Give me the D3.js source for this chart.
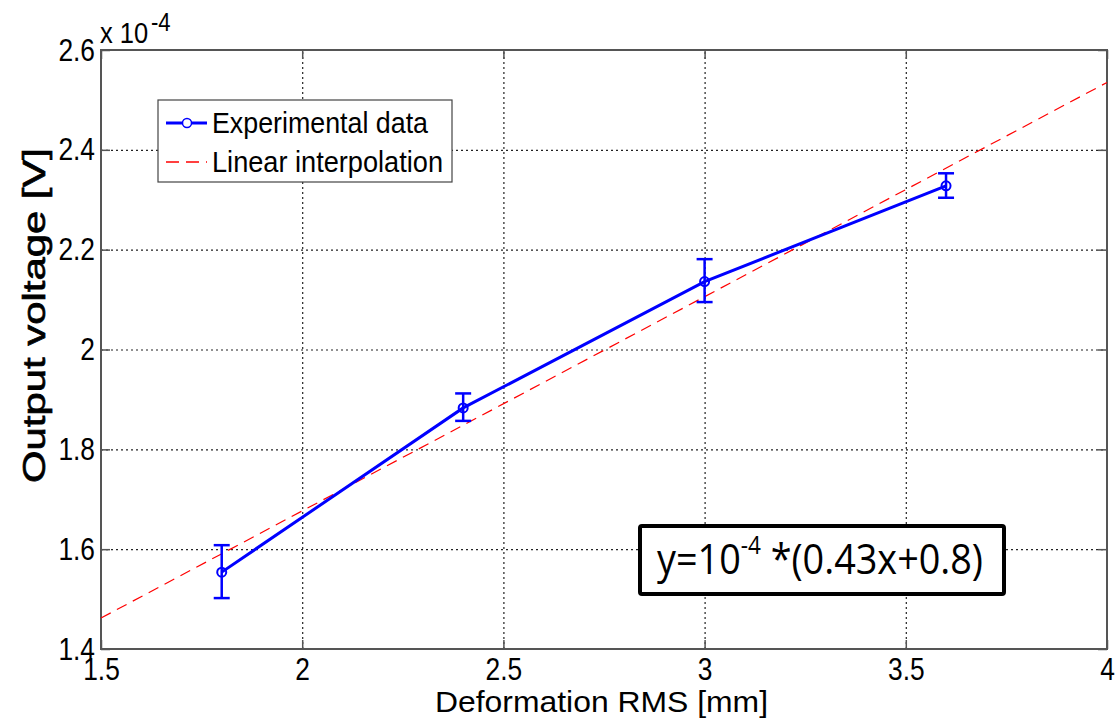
<!DOCTYPE html>
<html>
<head>
<meta charset="utf-8">
<script src="https://cdn.jsdelivr.net/npm/d3@7"></script>
<style>
  body { margin: 0; background: #fff; }
  text { font-family: "Liberation Sans", Arial, sans-serif; fill: #000; }
</style>
</head>
<body>
<div id="chart"></div>
<script>
// measured data (units of 1e-4 V)
var xValues = [1.8, 2.4, 3.0, 3.6];
var yValues = [1.554, 1.883, 2.136, 2.328];
var yLow = [1.502, 1.857, 2.095, 2.304];
var yHigh = [1.608, 1.912, 2.181, 2.353];

// linear fit end points
var fitX = [1.5, 4.0];
var fitY = [1.462, 2.535];

var xTicks = [1.5, 2, 2.5, 3, 3.5, 4];
var yTicks = [1.4, 1.6, 1.8, 2, 2.2, 2.4, 2.6];

var width = 1115, height = 724;
var margin = { left: 101, right: 8, top: 50, bottom: 75 };
var plotW = width - margin.left - margin.right;
var plotH = height - margin.top - margin.bottom;

var svg = d3.select('#chart').append('svg')
  .attr('width', width)
  .attr('height', height);

var g = svg.append('g')
  .attr('transform', 'translate(' + margin.left + ',' + margin.top + ')');

var x = d3.scaleLinear().domain([1.5, 4]).range([0, plotW]);
var y = d3.scaleLinear().domain([1.4, 2.6]).range([plotH, 0]);

var fmt = function(d) { return String(+d.toFixed(1)); };

// grid lines (dotted)
g.append('g')
  .attr('class', 'grid')
  .attr('transform', 'translate(0,' + plotH + ')')
  .call(d3.axisBottom(x).tickValues(xTicks.slice(1, -1)).tickSize(-plotH).tickFormat(''))
  .call(function(s) { s.select('.domain').remove(); });
g.append('g')
  .attr('class', 'grid')
  .call(d3.axisLeft(y).tickValues(yTicks.slice(1, -1)).tickSize(-plotW).tickFormat(''))
  .call(function(s) { s.select('.domain').remove(); });
g.selectAll('.grid line')
  .attr('stroke', '#222')
  .attr('stroke-width', 1.2)
  .attr('stroke-dasharray', '2,3');

// axes with inward ticks
var sx = 0.85;
var xAxis = g.append('g')
  .attr('transform', 'translate(0,' + plotH + ')')
  .call(d3.axisBottom(x).tickValues(xTicks).tickSize(-9).tickPadding(0).tickFormat(fmt));
xAxis.selectAll('text')
  .attr('font-size', 31)
  .attr('y', 31)
  .attr('dy', 0)
  .attr('text-anchor', 'middle')
  .attr('transform', 'scale(' + sx + ',1)');

var yAxis = g.append('g')
  .call(d3.axisLeft(y).tickValues(yTicks).tickSize(-9).tickFormat(fmt));
yAxis.selectAll('text')
  .attr('font-size', 31)
  .attr('x', -6 / sx)
  .attr('dy', 10)
  .attr('transform', 'scale(' + sx + ',1)');

g.selectAll('.tick line').filter(function() { return !this.closest('.grid'); })
  .attr('stroke', '#555').attr('stroke-width', 1.5);
xAxis.select('.domain').remove();
yAxis.select('.domain').remove();
g.selectAll('.tick text').attr('fill', '#000');

// right and top ticks
g.append('g')
  .attr('transform', 'translate(' + plotW + ',0)')
  .call(d3.axisRight(y).tickValues(yTicks).tickSize(-9).tickFormat(''))
  .call(function(s) { s.select('.domain').remove(); s.selectAll('line').attr('stroke', '#555').attr('stroke-width', 1.5); });
g.append('g')
  .call(d3.axisTop(x).tickValues(xTicks).tickSize(-9).tickFormat(''))
  .call(function(s) { s.select('.domain').remove(); s.selectAll('line').attr('stroke', '#555').attr('stroke-width', 1.5); });

// frame
g.append('rect')
  .attr('width', plotW).attr('height', plotH)
  .attr('fill', 'none').attr('stroke', '#555').attr('stroke-width', 2);

// exponent label
svg.append('text')
  .attr('x', 100 / sx).attr('y', 43)
  .attr('font-size', 30)
  .attr('transform', 'scale(' + sx + ',1)')
  .text('x 10');
svg.append('text')
  .attr('x', 151 / sx).attr('y', 31)
  .attr('font-size', 26)
  .attr('transform', 'scale(' + sx + ',1)')
  .text('-4');

// linear fit
var line = d3.line().x(function(d) { return x(d[0]); }).y(function(d) { return y(d[1]); });
var fitData = fitX.map(function(v, i) { return [v, fitY[i]]; });
g.append('path')
  .attr('d', line(fitData))
  .attr('fill', 'none')
  .attr('stroke', '#ff0000')
  .attr('stroke-width', 1.2)
  .attr('stroke-dasharray', '11,7');

// experimental data
var pts = xValues.map(function(v, i) { return { x: v, y: yValues[i], lo: yLow[i], hi: yHigh[i] }; });
var blue = '#0000ff';
g.append('path')
  .attr('d', line(pts.map(function(d) { return [d.x, d.y]; })))
  .attr('fill', 'none')
  .attr('stroke', blue)
  .attr('stroke-width', 3);

var eb = g.selectAll('.err').data(pts).enter().append('g').attr('class', 'err');
eb.append('line')
  .attr('x1', function(d) { return x(d.x); }).attr('x2', function(d) { return x(d.x); })
  .attr('y1', function(d) { return y(d.lo); }).attr('y2', function(d) { return y(d.hi); })
  .attr('stroke', blue).attr('stroke-width', 2.5);
[function(d) { return d.lo; }, function(d) { return d.hi; }].forEach(function(acc) {
  eb.append('line')
    .attr('x1', function(d) { return x(d.x) - 8; }).attr('x2', function(d) { return x(d.x) + 8; })
    .attr('y1', function(d) { return y(acc(d)); }).attr('y2', function(d) { return y(acc(d)); })
    .attr('stroke', blue).attr('stroke-width', 2.5);
});
eb.append('circle')
  .attr('cx', function(d) { return x(d.x); })
  .attr('cy', function(d) { return y(d.y); })
  .attr('r', 4.5)
  .attr('fill', 'none')
  .attr('stroke', blue)
  .attr('stroke-width', 2);

// legend
var leg = svg.append('g');
leg.append('rect')
  .attr('x', 158).attr('y', 100).attr('width', 294).attr('height', 82)
  .attr('fill', '#fff').attr('stroke', '#444').attr('stroke-width', 1.2);
leg.append('line').attr('x1', 166).attr('x2', 207).attr('y1', 123).attr('y2', 123)
  .attr('stroke', blue).attr('stroke-width', 3);
leg.append('circle').attr('cx', 187).attr('cy', 123).attr('r', 4.5)
  .attr('fill', '#fff').attr('stroke', blue).attr('stroke-width', 1.5);
leg.append('line').attr('x1', 166).attr('x2', 207).attr('y1', 162).attr('y2', 162)
  .attr('stroke', '#ff0000').attr('stroke-width', 1.3).attr('stroke-dasharray', '13,7');
leg.append('text').attr('x', 212).attr('y', 133).attr('font-size', 29)
  .attr('textLength', 216).attr('lengthAdjust', 'spacingAndGlyphs')
  .text('Experimental data');
leg.append('text').attr('x', 212).attr('y', 172).attr('font-size', 29)
  .attr('textLength', 231).attr('lengthAdjust', 'spacingAndGlyphs')
  .text('Linear interpolation');

// equation box
var eq = svg.append('g');
eq.append('rect')
  .attr('x', 640).attr('y', 526).attr('width', 364).attr('height', 68).attr('rx', 2)
  .attr('fill', '#fff').attr('stroke', '#000').attr('stroke-width', 4);
var eqText = eq.append('text')
  .attr('transform', 'translate(657,574) scale(0.9,1)')
  .style('font-family', '"Open Sans", "Noto Sans", sans-serif')
  .attr('font-size', 42);
eqText.append('tspan').text('y=10');
eqText.append('tspan').attr('font-size', 25).attr('dy', -20).text('-4');
eqText.append('tspan').attr('dy', 20).text(' *(0.43x+0.8)');

// axis labels
svg.append('text')
  .attr('x', 435).attr('y', 712)
  .attr('font-size', 29)
  .attr('textLength', 333).attr('lengthAdjust', 'spacingAndGlyphs')
  .text('Deformation RMS [mm]');
svg.append('text')
  .attr('transform', 'translate(45,483) rotate(-90)')
  .attr('font-size', 32)
  .attr('stroke', '#000').attr('stroke-width', 0.7)
  .attr('textLength', 335).attr('lengthAdjust', 'spacingAndGlyphs')
  .text('Output voltage [V]');
</script>
</body>
</html>
